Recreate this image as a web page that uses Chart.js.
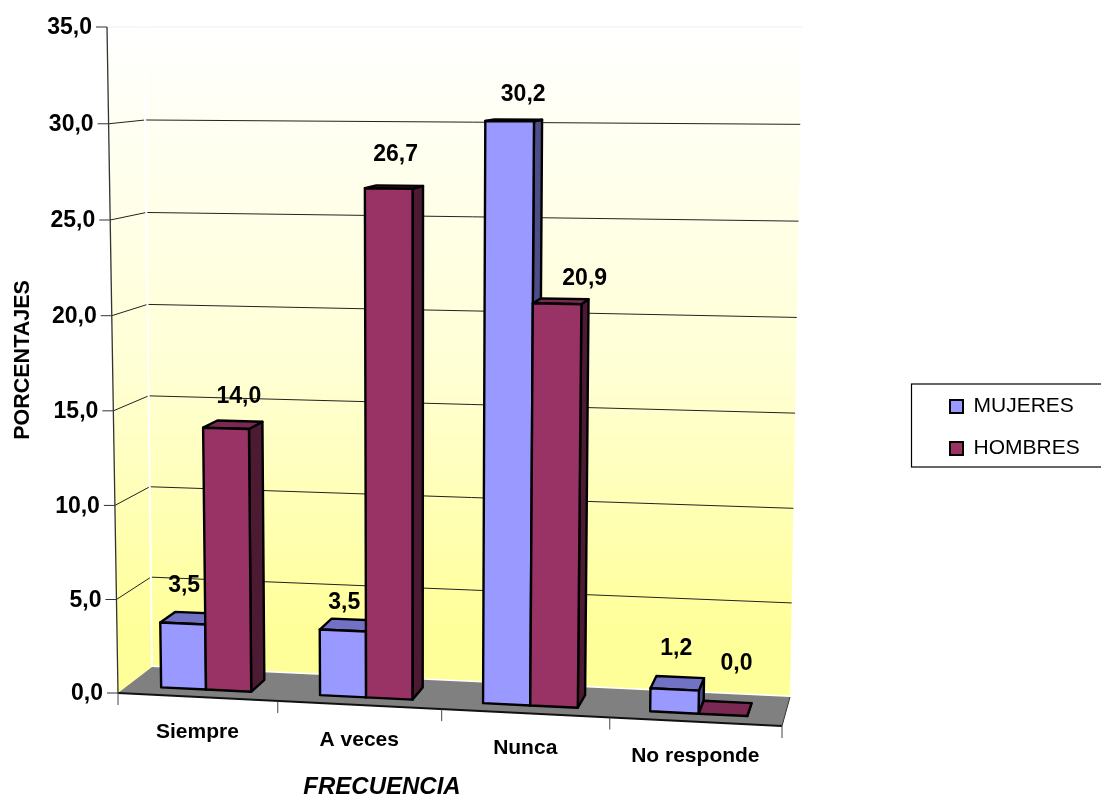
<!DOCTYPE html>
<html>
<head>
<meta charset="utf-8">
<title>Frecuencia</title>
<script src="https://cdn.jsdelivr.net/npm/chart.js@4"></script>
<style>
  html, body { margin: 0; padding: 0; background: #fff; overflow: hidden; }
  canvas { display: block; }
</style>
</head>
<body>
<canvas id="grafico" width="1101" height="796"></canvas>
<script>
const categorias = ["Siempre", "A veces", "Nunca", "No responde"];
const mujeres = [3.5, 3.5, 30.2, 1.2];
const hombres = [14.0, 26.7, 20.9, 0.0];

const FUENTE = '"Liberation Sans", Arial, sans-serif';

// esquinas de la caja 3D: suelo y vector hacia arriba (hasta el máximo del eje)
const suelo = { fi: [118, 693], fd: [782, 726], ti: [152, 667], td: [790, 697] };
const alto = { fi: [-11, -666], fd: [14, -700], ti: [-8, -640], td: [12, -670] };
// profundidad de las columnas dentro de la caja (0 delante, 1 fondo)
const FRENTE = 0.28, FONDO = 0.73;

const tonos = [
  { frente: "#9999FF", tapa: "#7272C4", lado: "#4D4D88" },
  { frente: "#993366", tapa: "#7A2952", lado: "#4D1A33" }
];
// ajuste a mano de cada rótulo respecto a la tapa de su columna
const ajusteRotulo = [
  [[-13, -27], [-10, -17], [5, -25], [-4, -28]],
  [[-1, -25], [-4, -31], [20, -20], [9, -38]]
];

const mezcla = (a, b, t) => a + (b - a) * t;
const bilineal = (c, u, d, i) =>
  mezcla(mezcla(c.fi[i], c.fd[i], u), mezcla(c.ti[i], c.td[i], u), d);
const coma = (n) => n.toFixed(1).replace(".", ",");

// pasa fracción de eje (u, v) y profundidad d a un punto del lienzo
function punto(u, v, d) {
  const w = u - 0.05 * u * (1 - u); // fuga horizontal
  const h = v - 0.02 * v * (1 - v); // fuga vertical
  return [
    bilineal(suelo, w, d, 0) + h * bilineal(alto, w, d, 0),
    bilineal(suelo, w, d, 1) + h * bilineal(alto, w, d, 1)
  ];
}

function poligono(ctx, pts, relleno, borde, grosor) {
  ctx.beginPath();
  pts.forEach((p, i) => (i ? ctx.lineTo(p[0], p[1]) : ctx.moveTo(p[0], p[1])));
  ctx.closePath();
  if (relleno) { ctx.fillStyle = relleno; ctx.fill(); }
  if (borde) { ctx.strokeStyle = borde; ctx.lineWidth = grosor; ctx.lineJoin = "round"; ctx.stroke(); }
}

function linea(ctx, a, b, color, grosor) {
  ctx.beginPath();
  ctx.moveTo(a[0], a[1]);
  ctx.lineTo(b[0], b[1]);
  ctx.strokeStyle = color;
  ctx.lineWidth = grosor;
  ctx.stroke();
}

const caja3d = {
  id: "caja3d",
  afterLayout(chart) {
    // la leyenda va fuera del área de trazado, a la derecha
    Object.assign(chart.legend, { left: 929, right: 1101, top: 375, bottom: 560, width: 172, height: 185 });
  },
  beforeDatasetsDraw(chart) {
    const { ctx, chartArea: area, scales } = chart;
    const fu = (x) => (x - area.left) / (area.right - area.left);
    const fv = (y) => (area.bottom - y) / (area.bottom - area.top);

    ctx.save();

    // paredes con degradado
    const deg = ctx.createLinearGradient(0, 25, 0, 700);
    deg.addColorStop(0, "#FFFFFF");
    deg.addColorStop(0.5, "#FFFFD6");
    deg.addColorStop(0.9, "#FFFF99");
    deg.addColorStop(1, "#FFFF99");
    poligono(ctx, [punto(0, 0, 0), punto(0, 1, 0), punto(0, 1, 1), punto(0, 0, 1)], deg);
    poligono(ctx, [punto(0, 0, 1), punto(0, 1, 1), punto(1, 1, 1), punto(1, 0, 1)], deg);

    // líneas de división, marcas y números del eje vertical
    ctx.font = "bold 23px " + FUENTE;
    ctx.textAlign = "right";
    ctx.textBaseline = "middle";
    scales.y.ticks.forEach((t) => {
      const v = fv(scales.y.getPixelForValue(t.value));
      const a = punto(0, v, 0), b = punto(0, v, 1), c = punto(1, v, 1);
      const tono = v > 0.99 ? "#EEEEEE" : "#222222";
      if (v > 0) {
        linea(ctx, a, b, tono, 1);
        linea(ctx, b, c, tono, 1);
      }
      linea(ctx, [a[0] - 11, a[1]], a, "#333333", 1);
      ctx.fillStyle = "#000";
      ctx.fillText(t.label, a[0] - 15, a[1] + 1);
    });

    // arista blanca entre las paredes
    linea(ctx, punto(0, 0, 1), punto(0, 1, 1), "#FFFFFF", 2);

    // suelo
    linea(ctx, punto(0, 0, 1), punto(1, 0, 1), "#FFFFFF", 3);
    poligono(ctx, [punto(0, 0, 0), punto(1, 0, 0), punto(1, 0, 1), punto(0, 0, 1)], "#808080");
    linea(ctx, punto(0, 0, 0), punto(1, 0, 0), "#111111", 2);
    linea(ctx, punto(1, 0, 0), punto(1, 0, 1), "#333333", 1);
    linea(ctx, punto(0, 0, 0), punto(0, 1, 0), "#333333", 1.3);

    // marcas y nombres de las categorías
    for (let i = 0; i <= categorias.length; i++) {
      const p = punto(i / categorias.length, 0, 0);
      linea(ctx, p, [p[0], p[1] + 12], "#444444", 1);
    }
    ctx.textAlign = "center";
    ctx.font = "bold 21px " + FUENTE;
    ctx.fillStyle = "#000";
    scales.x.ticks.forEach((t, i) => {
      const p = punto(fu(scales.x.getPixelForTick(i)), 0, 0);
      ctx.fillText(categorias[t.value], p[0], p[1] + 35);
    });

    ctx.font = "italic bold 24px " + FUENTE;
    ctx.fillText("FRECUENCIA", 382, 787);

    // columnas: cara frontal, tapa y lateral a partir de los elementos de Chart.js
    const rotulos = [];
    categorias.forEach((_, i) => {
      chart.data.datasets.forEach((ds, s) => {
        const bar = chart.getDatasetMeta(s).data[i];
        const izq = fu(bar.x - bar.width / 2), der = fu(bar.x + bar.width / 2);
        const v = fv(bar.y), b = fv(bar.base);
        const tono = tonos[s];
        poligono(ctx, [punto(der, b, FRENTE), punto(der, v, FRENTE), punto(der, v, FONDO), punto(der, b, FONDO)], tono.lado, "#000", 2.4);
        poligono(ctx, [punto(izq, v, FRENTE), punto(der, v, FRENTE), punto(der, v, FONDO), punto(izq, v, FONDO)], tono.tapa, "#000", 2.4);
        if (v > b) poligono(ctx, [punto(izq, b, FRENTE), punto(der, b, FRENTE), punto(der, v, FRENTE), punto(izq, v, FRENTE)], tono.frente, "#000", 2.4);
        const c = punto(fu(bar.x), v, FONDO);
        rotulos.push([coma(ds.data[i]), c[0] + ajusteRotulo[s][i][0], c[1] + ajusteRotulo[s][i][1]]);
      });
    });

    ctx.font = "bold 23px " + FUENTE;
    ctx.fillStyle = "#000";
    rotulos.forEach((r) => ctx.fillText(r[0], r[1], r[2]));

    ctx.restore();
    return false; // las columnas planas no se dibujan
  },
  afterDraw(chart) {
    // marco de la leyenda
    const { ctx } = chart;
    ctx.save();
    ctx.strokeStyle = "#000";
    ctx.lineWidth = 1.2;
    ctx.strokeRect(911.5, 384, 195, 83);
    ctx.restore();
  }
};

const grafico = new Chart(document.getElementById("grafico"), {
  type: "bar",
  data: {
    labels: categorias,
    datasets: [
      { label: "MUJERES", data: mujeres, backgroundColor: "#9999FF", borderColor: "#000", borderWidth: 2 },
      { label: "HOMBRES", data: hombres, backgroundColor: "#993366", borderColor: "#000", borderWidth: 2 }
    ]
  },
  options: {
    responsive: false,
    animation: false,
    layout: { padding: { left: 8, top: 27, right: 319, bottom: 95 } },
    datasets: { bar: { categoryPercentage: 0.57, barPercentage: 1 } },
    scales: {
      x: { grid: { display: false }, border: { display: false }, ticks: { display: false } },
      y: {
        min: 0,
        max: 35,
        grid: { display: false },
        border: { display: false },
        ticks: { display: false, stepSize: 5, callback: (v) => coma(v) },
        title: {
          display: true,
          text: "PORCENTAJES",
          color: "#000",
          font: { family: FUENTE, size: 21.5, weight: "bold", lineHeight: 1 },
          padding: { top: 4, bottom: 85 }
        }
      }
    },
    plugins: {
      tooltip: { enabled: false },
      legend: {
        position: "chartArea",
        align: "start",
        labels: {
          color: "#000",
          boxWidth: 13,
          boxHeight: 13,
          padding: 21,
          font: { family: FUENTE, size: 21 }
        }
      }
    }
  },
  plugins: [caja3d]
});
</script>
</body>
</html>
